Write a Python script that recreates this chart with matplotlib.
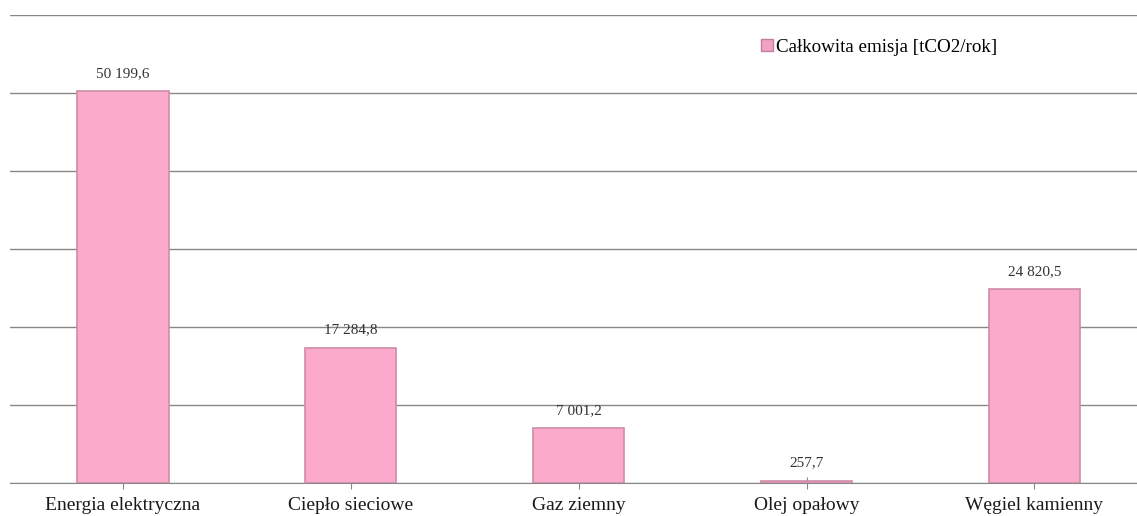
import matplotlib.pyplot as plt
from matplotlib.patches import Patch

# -------------------- DATA --------------------
categories = ["Energia elektryczna", "Ciepło sieciowe", "Gaz ziemny",
              "Olej opałowy", "Węgiel kamienny"]
emissions = [50199.6, 17284.8, 7001.2, 257.7, 24820.5]
value_labels = ["50 199,6", "17 284,8", "7 001,2", "257,7", "24 820,5"]
series_name = "Całkowita emisja [tCO2/rok]"

plt.rcParams['font.family'] = ['Liberation Serif', 'DejaVu Serif']

# -------------------- FIGURE --------------------
fig = plt.figure(figsize=(11.37, 5.16), dpi=100)
ax = fig.add_axes([10 / 1137, 33 / 516, 1 - 10 / 1137, 468 / 516])

x = list(range(len(categories)))
bars = ax.bar(x, emissions, width=0.4, color='#FBAACB',
              edgecolor='#CF8CA8', linewidth=1.2, zorder=3)

for xi, val, lab in zip(x, emissions, value_labels):
    ax.text(xi, val + 1500, lab, ha='center', va='bottom',
            fontsize=11, color='#333333')

ax.set_xlim(-0.496, 4.45)
ax.set_ylim(0, 60000)
ax.set_yticks(range(0, 60001, 10000))
ax.yaxis.grid(True, color='#888888', linewidth=1, zorder=0)
ax.tick_params(axis='y', left=False, labelleft=False)

ax.set_xticks(x)
ax.set_xticklabels(categories, fontsize=14, color='#1a1a1a')
ax.tick_params(axis='x', direction='inout', length=8, color='#888888',
               pad=6)

for side in ['top', 'right', 'left']:
    ax.spines[side].set_visible(False)
ax.spines['bottom'].set_color('#888888')

handle = Patch(facecolor='#F2A3C4', edgecolor='#C47E9E')
ax.legend([handle], [series_name], loc='upper left',
          bbox_to_anchor=(734 / 1127, 0.985), frameon=False, fontsize=13.7,
          handlelength=0.6, handleheight=0.6, handletextpad=0.2)

fig.savefig("out.png", dpi=100)
